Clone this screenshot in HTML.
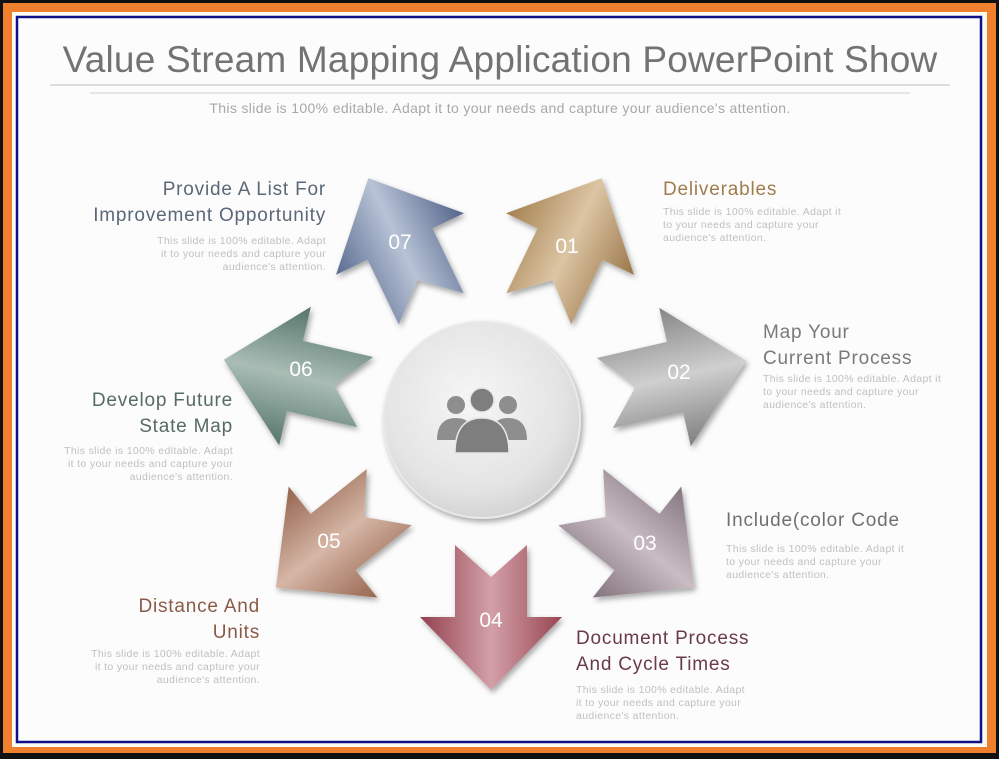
<!DOCTYPE html>
<html><head><meta charset="utf-8"><style>
html,body{margin:0;padding:0;width:999px;height:759px;overflow:hidden;background:#000}
svg{display:block}
text{font-family:"Liberation Sans",sans-serif}
</style></head><body>
<svg width="999" height="759" viewBox="0 0 999 759" xmlns="http://www.w3.org/2000/svg">
<defs>
<radialGradient id="circ" cx="0.45" cy="0.4" r="0.65">
<stop offset="0" stop-color="#f6f6f6"/><stop offset="0.7" stop-color="#e4e4e4"/><stop offset="1" stop-color="#cfcfcf"/></radialGradient>
<filter id="sh" x="-30%" y="-30%" width="160%" height="160%"><feDropShadow dx="2" dy="3" stdDeviation="3" flood-color="#000" flood-opacity="0.35"/></filter>
<linearGradient id="g1" x1="0" y1="0" x2="1" y2="0"><stop offset="0" stop-color="#9a7648"/><stop offset="0.5" stop-color="#dcc5a4"/><stop offset="1" stop-color="#a4804f"/></linearGradient>
<linearGradient id="g2" x1="0" y1="0" x2="1" y2="0"><stop offset="0" stop-color="#7e7e7e"/><stop offset="0.5" stop-color="#cfcfcf"/><stop offset="1" stop-color="#858585"/></linearGradient>
<linearGradient id="g3" x1="0" y1="0" x2="1" y2="0"><stop offset="0" stop-color="#83737c"/><stop offset="0.5" stop-color="#c9bcc3"/><stop offset="1" stop-color="#857680"/></linearGradient>
<linearGradient id="g4" x1="0" y1="0" x2="1" y2="0"><stop offset="0" stop-color="#93404e"/><stop offset="0.5" stop-color="#d3a0a8"/><stop offset="1" stop-color="#984552"/></linearGradient>
<linearGradient id="g5" x1="0" y1="0" x2="1" y2="0"><stop offset="0" stop-color="#94644e"/><stop offset="0.5" stop-color="#d6b6a6"/><stop offset="1" stop-color="#97664f"/></linearGradient>
<linearGradient id="g6" x1="0" y1="0" x2="1" y2="0"><stop offset="0" stop-color="#55736a"/><stop offset="0.5" stop-color="#a9bdb5"/><stop offset="1" stop-color="#58766c"/></linearGradient>
<linearGradient id="g7" x1="0" y1="0" x2="1" y2="0"><stop offset="0" stop-color="#52648a"/><stop offset="0.5" stop-color="#b8c3d6"/><stop offset="1" stop-color="#5a6c90"/></linearGradient>
<path id="arr" d="M-36,-72 L0,-40 L36,-72 L36,0 L71,0 L0,73 L-71,0 L-36,0 Z"/>
</defs>
<rect x="0" y="0" width="999" height="759" fill="#111"/>
<rect x="3" y="3" width="993" height="750" fill="#f07f2e"/>
<rect x="12" y="12" width="975" height="735" fill="#fbfbf4"/>
<rect x="17" y="17" width="964" height="725" fill="#fcfcfc" stroke="#10108a" stroke-width="2.5"/>

<text x="500" y="72" font-size="37" fill="#737373" text-anchor="middle" letter-spacing="0.2">Value Stream Mapping Application PowerPoint Show</text>
<line x1="50" y1="85" x2="950" y2="85" stroke="#bcbcbc" stroke-width="1"/>
<line x1="90" y1="93" x2="910" y2="93" stroke="#d0d0d0" stroke-width="1"/>
<text x="500" y="113" font-size="14" fill="#a8a8a8" text-anchor="middle" letter-spacing="0.35">This slide is 100% editable. Adapt it to your needs and capture your audience's attention.</text>

<circle cx="482" cy="420" r="98" fill="url(#circ)" stroke="#e8e8e8" stroke-width="2" filter="url(#sh)"/>
<g fill="#8e8e8e">
<circle cx="456" cy="405" r="9"/><path d="M437,440 Q437,418 456,418 Q470,418 472,430 L472,440 Z"/>
<circle cx="508" cy="405" r="9"/><path d="M527,440 Q527,418 508,418 Q494,418 492,430 L492,440 Z"/>
<circle cx="482" cy="400" r="12" fill="#7e7e7e" stroke="#e6e6e6" stroke-width="1.5"/>
<path d="M455,453 Q455,418 482,418 Q509,418 509,453 Z" fill="#7e7e7e" stroke="#e6e6e6" stroke-width="1.5"/>
</g>

<g filter="url(#sh)">
<use href="#arr" fill="url(#g1)" transform="translate(570,244) rotate(-154.3)"/>
<use href="#arr" fill="url(#g2)" transform="translate(675,377) rotate(-102.9)"/>
<use href="#arr" fill="url(#g3)" transform="translate(637,542) rotate(-51.4)"/>
<use href="#arr" fill="url(#g4)" transform="translate(491,617)"/>
<use href="#arr" fill="url(#g5)" transform="translate(333,542) rotate(51.4)"/>
<use href="#arr" fill="url(#g6)" transform="translate(295,376) rotate(102.9)"/>
<use href="#arr" fill="url(#g7)" transform="translate(400,244) rotate(154.3)"/>
</g>
<g font-size="21" fill="#fff" text-anchor="middle">
<text x="567" y="253">01</text><text x="679" y="379">02</text><text x="645" y="550">03</text>
<text x="491" y="627">04</text><text x="329" y="548">05</text><text x="301" y="376">06</text><text x="400" y="249">07</text>
</g>

<g font-size="19" letter-spacing="0.8">
<text x="326" y="195" fill="#5a6878" text-anchor="end">Provide A List For</text>
<text x="326" y="221" fill="#5a6878" text-anchor="end">Improvement  Opportunity</text>
<text x="663" y="195" fill="#a07c4e">Deliverables</text>
<text x="763" y="338" fill="#7a7a7a">Map Your</text>
<text x="763" y="364" fill="#7a7a7a">Current Process</text>
<text x="233" y="406" fill="#566a66" text-anchor="end">Develop Future</text>
<text x="233" y="432" fill="#566a66" text-anchor="end">State Map</text>
<text x="726" y="526" fill="#707070">Include(color  Code</text>
<text x="260" y="612" fill="#8a5a48" text-anchor="end">Distance And</text>
<text x="260" y="638" fill="#8a5a48" text-anchor="end">Units</text>
<text x="576" y="644" fill="#6a3a48">Document  Process</text>
<text x="576" y="670" fill="#6a3a48">And  Cycle Times</text>
</g>
<g font-size="10.5" fill="#c0c0c0" letter-spacing="0.35">
<g text-anchor="end">
<text x="326" y="244">This slide is 100% editable. Adapt</text><text x="326" y="257">it to your needs and capture your</text><text x="326" y="270">audience's attention.</text>
<text x="233" y="454">This slide is 100% editable. Adapt</text><text x="233" y="467">it to your needs and capture your</text><text x="233" y="480">audience's attention.</text>
<text x="260" y="657">This slide is 100% editable. Adapt</text><text x="260" y="670">it to your needs and capture your</text><text x="260" y="683">audience's attention.</text>
</g>
<text x="663" y="215">This slide is 100% editable. Adapt it</text><text x="663" y="228">to your needs and capture your</text><text x="663" y="241">audience's attention.</text>
<text x="763" y="382">This slide is 100% editable. Adapt it</text><text x="763" y="395">to your needs and capture your</text><text x="763" y="408">audience's attention.</text>
<text x="726" y="552">This slide is 100% editable. Adapt it</text><text x="726" y="565">to your needs and capture your</text><text x="726" y="578">audience's attention.</text>
<text x="576" y="693">This slide is 100% editable. Adapt</text><text x="576" y="706">it to your needs and capture your</text><text x="576" y="719">audience's attention.</text>
</g>
</svg>
</body></html>
